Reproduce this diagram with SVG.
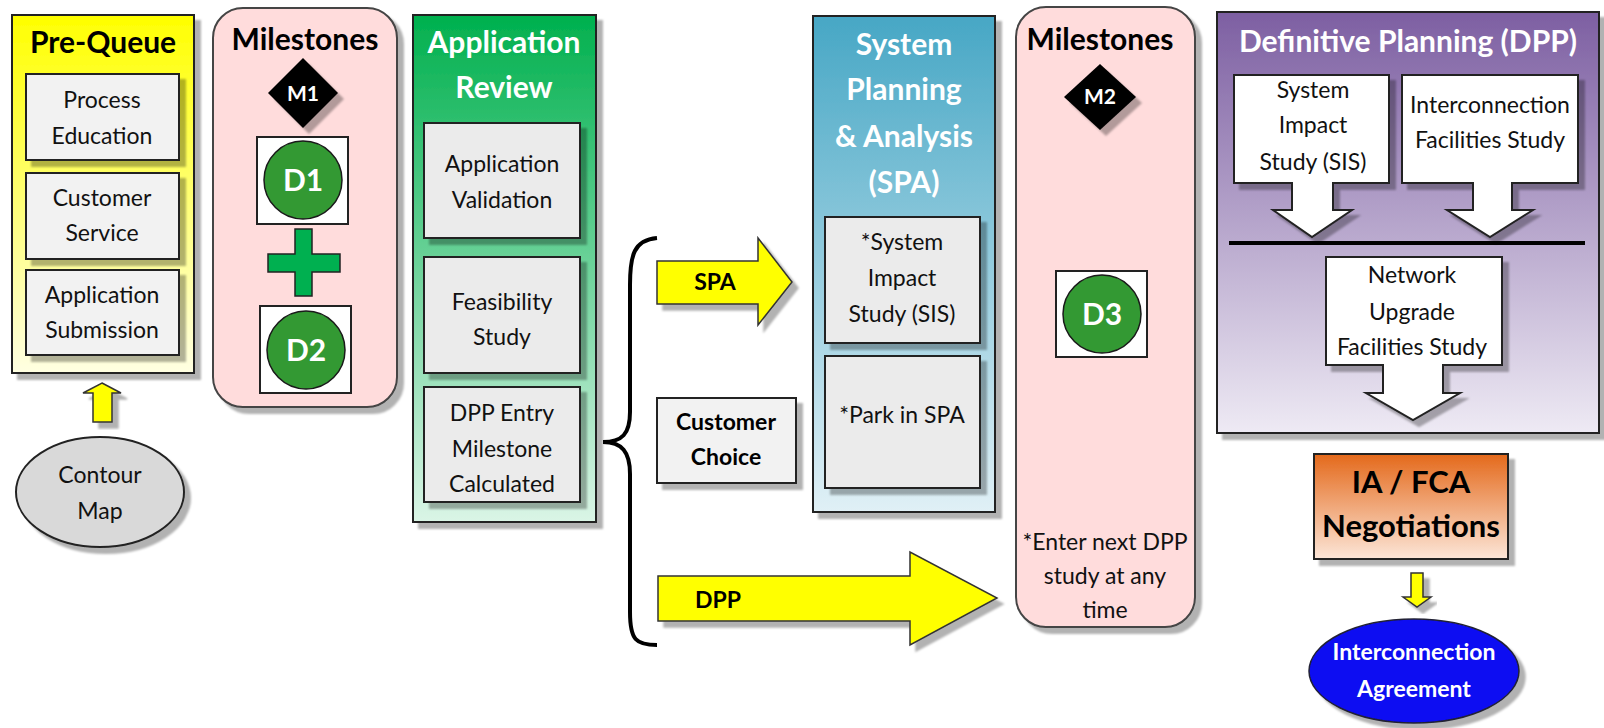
<svg xmlns="http://www.w3.org/2000/svg" width="1604" height="728" viewBox="0 0 1604 728">
<defs>
<linearGradient id="gY" x1="0" y1="0" x2="0" y2="1"><stop offset="0" stop-color="#ffff00"/><stop offset="1" stop-color="#ffffe2"/></linearGradient>
<linearGradient id="gG" x1="0" y1="0" x2="0" y2="1"><stop offset="0" stop-color="#00b04e"/><stop offset="1" stop-color="#daf5e6"/></linearGradient>
<linearGradient id="gB" x1="0" y1="0" x2="0" y2="1"><stop offset="0" stop-color="#47a7c5"/><stop offset="1" stop-color="#e0f0f6"/></linearGradient>
<linearGradient id="gP" x1="0" y1="0" x2="0" y2="1"><stop offset="0" stop-color="#7d5fa2"/><stop offset="1" stop-color="#eeeaf4"/></linearGradient>
<linearGradient id="gO" x1="0" y1="0" x2="0" y2="1"><stop offset="0" stop-color="#e4691b"/><stop offset="1" stop-color="#fce6d8"/></linearGradient>
<filter id="sh" x="-10%" y="-10%" width="130%" height="130%"><feDropShadow dx="6" dy="6" stdDeviation="0.8" flood-color="#000" flood-opacity="0.3"/></filter>
</defs>
<style>
.t{font-family:Lato,'Liberation Sans',sans-serif;text-anchor:middle}
.ti{font-size:30px;font-weight:bold}
.bd{font-size:23px;fill:#111}
.bb{font-size:23px;font-weight:bold;fill:#000}
.w{fill:#fff}
.box{fill:#ebebeb;stroke:#222;stroke-width:2}
.lbox{fill:#f2f2f2;stroke:#222;stroke-width:2}
.wbox{fill:#fff;stroke:#222;stroke-width:2}
.ms{fill:#ffdcdc;stroke:#444;stroke-width:2}
.dc{fill:#339933;stroke:#1a1a1a;stroke-width:1.5}
.dia{fill:#000}
.ya{fill:#ffff00;stroke:#333;stroke-width:1.5}
.dn{font-size:30px;font-weight:bold;fill:#fff}
.mn{font-size:21px;font-weight:bold;fill:#fff}
</style>

<g id="pre-queue">
<rect x="12" y="15" width="182" height="358" fill="url(#gY)" stroke="#222" stroke-width="2" filter="url(#sh)"/>
<text x="103" y="53" class="t ti">Pre-Queue</text>
<rect x="26" y="74" width="153" height="86" class="lbox" filter="url(#sh)"/>
<text x="102" y="108" class="t bd">Process</text>
<text x="102" y="144" class="t bd">Education</text>
<rect x="26" y="173" width="153" height="86" class="lbox" filter="url(#sh)"/>
<text x="102" y="206" class="t bd">Customer</text>
<text x="102" y="241" class="t bd">Service</text>
<rect x="26" y="270" width="153" height="85" class="lbox" filter="url(#sh)"/>
<text x="102" y="303" class="t bd">Application</text>
<text x="102" y="338" class="t bd">Submission</text>
</g>

<g id="milestones-1">
<rect x="213" y="8" width="184" height="399" rx="30" class="ms" filter="url(#sh)"/>
<text x="305" y="50" class="t ti">Milestones</text>
<polygon points="303,58 338,93 303,128 268,93" class="dia" filter="url(#sh)"/>
<text x="303" y="101" class="t mn">M1</text>
<rect x="257" y="137" width="91" height="87" class="wbox"/>
<circle cx="303" cy="180" r="39" class="dc"/>
<text x="303" y="191" class="t dn">D1</text>
<path d="M295,229 H312 V254 H340 V272 H312 V296 H295 V272 H268 V254 H295 Z" fill="#00b050" stroke="#222" stroke-width="1.5"/>
<rect x="260" y="306" width="91" height="87" class="wbox"/>
<circle cx="306" cy="350" r="39" class="dc"/>
<text x="306" y="361" class="t dn">D2</text>
</g>

<g id="contour-map">
<ellipse cx="100" cy="492" rx="84" ry="55" fill="#d9d9d9" stroke="#222" stroke-width="2" filter="url(#sh)"/>
<text x="100" y="483" class="t bd">Contour</text>
<text x="100" y="519" class="t bd">Map</text>
</g>

<g id="application-review">
<rect x="413" y="15" width="183" height="507" fill="url(#gG)" stroke="#222" stroke-width="2" filter="url(#sh)"/>
<text x="504" y="53" class="t ti w">Application</text>
<text x="504" y="98" class="t ti w">Review</text>
<rect x="424" y="123" width="156" height="115" class="box" filter="url(#sh)"/>
<text x="502" y="172" class="t bd">Application</text>
<text x="502" y="208" class="t bd">Validation</text>
<rect x="424" y="257" width="156" height="116" class="box" filter="url(#sh)"/>
<text x="502" y="310" class="t bd">Feasibility</text>
<text x="502" y="345" class="t bd">Study</text>
<rect x="424" y="387" width="156" height="115" class="box" filter="url(#sh)"/>
<text x="502" y="421" class="t bd">DPP Entry</text>
<text x="502" y="457" class="t bd">Milestone</text>
<text x="502" y="492" class="t bd">Calculated</text>
</g>

<g id="customer-choice">
<rect x="657" y="398" width="139" height="85" class="lbox" filter="url(#sh)"/>
<text x="726" y="430" class="t bb">Customer</text>
<text x="726" y="465" class="t bb">Choice</text>
</g>

<g id="spa">
<rect x="813" y="16" width="182" height="496" fill="url(#gB)" stroke="#222" stroke-width="2" filter="url(#sh)"/>
<text x="904" y="55" class="t ti w">System</text>
<text x="904" y="100" class="t ti w">Planning</text>
<text x="904" y="147" class="t ti w">&amp; Analysis</text>
<text x="904" y="193" class="t ti w">(SPA)</text>
<rect x="825" y="217" width="155" height="126" class="box" filter="url(#sh)"/>
<text x="902" y="250" class="t bd">*System</text>
<text x="902" y="286" class="t bd">Impact</text>
<text x="902" y="322" class="t bd">Study (SIS)</text>
<rect x="825" y="356" width="155" height="132" class="box" filter="url(#sh)"/>
<text x="902" y="423" class="t bd">*Park in SPA</text>
</g>

<g id="milestones-2">
<rect x="1016" y="7" width="179" height="620" rx="30" class="ms" filter="url(#sh)"/>
<text x="1100" y="50" class="t ti">Milestones</text>
<polygon points="1100,64 1136,97 1100,130 1064,97" class="dia" filter="url(#sh)"/>
<text x="1100" y="104" class="t mn">M2</text>
<rect x="1056" y="271" width="91" height="86" class="wbox"/>
<circle cx="1102" cy="314" r="39" class="dc"/>
<text x="1102" y="325" class="t dn">D3</text>
<text x="1105" y="550" class="t bd">*Enter next DPP</text>
<text x="1105" y="584" class="t bd">study at any</text>
<text x="1105" y="618" class="t bd">time</text>
</g>

<g id="dpp">
<rect x="1217" y="12" width="382" height="421" fill="url(#gP)" stroke="#222" stroke-width="2" filter="url(#sh)"/>
<text x="1408" y="52" class="t ti w">Definitive Planning (DPP)</text>
<path d="M1234,75 H1389 V183 H1333 V210 H1352 L1312,237 L1273,210 H1292 V183 H1234 Z" class="wbox" filter="url(#sh)"/>
<text x="1313" y="98" class="t bd">System</text>
<text x="1313" y="133" class="t bd">Impact</text>
<text x="1313" y="170" class="t bd">Study (SIS)</text>
<path d="M1402,75 H1578 V183 H1512 V210 H1533 L1490,237 L1447,210 H1473 V183 H1402 Z" class="wbox" filter="url(#sh)"/>
<text x="1490" y="113" class="t bd">Interconnection</text>
<text x="1490" y="148" class="t bd">Facilities Study</text>
<line x1="1229" y1="243" x2="1585" y2="243" stroke="#000" stroke-width="4"/>
<path d="M1326,257 H1502 V365 H1443 V393 H1460 L1413,420 L1366,393 H1383 V365 H1326 Z" class="wbox" filter="url(#sh)"/>
<text x="1412" y="283" class="t bd">Network</text>
<text x="1412" y="320" class="t bd">Upgrade</text>
<text x="1412" y="355" class="t bd">Facilities Study</text>
</g>

<g id="ia-fca">
<rect x="1314" y="454" width="194" height="105" fill="url(#gO)" stroke="#222" stroke-width="2" filter="url(#sh)"/>
<text x="1411" y="493" class="t" style="font-size:31px;font-weight:bold">IA / FCA</text>
<text x="1411" y="537" class="t" style="font-size:31px;font-weight:bold">Negotiations</text>
</g>

<g id="interconnection-agreement">
<ellipse cx="1414" cy="671" rx="105" ry="52" fill="#0a0af2" stroke="#223" stroke-width="1.5" filter="url(#sh)"/>
<text x="1414" y="660" class="t w" style="font-size:23px;font-weight:bold">Interconnection</text>
<text x="1414" y="697" class="t w" style="font-size:23px;font-weight:bold">Agreement</text>
</g>

<g id="connectors">
<path d="M102,383 L121,393 H112 V422 H93 V393 H83 Z" class="ya" filter="url(#sh)"/>
<path d="M657,238 C634,240 630,255 630,285 L630,412 C630,434 622,442 603,442 C622,442 630,452 630,474 L630,612 C630,640 636,645 657,645" fill="none" stroke="#000" stroke-width="4"/>
<path d="M657,261 H758 V238 L792,282 L758,325 V304 H657 Z" class="ya" filter="url(#sh)"/>
<text x="715" y="290" class="t bb" style="font-size:23px">SPA</text>
<path d="M658,576 H910 V552 L997,598 L910,645 V621 H658 Z" class="ya" filter="url(#sh)"/>
<text x="718" y="608" class="t bb" style="font-size:23px">DPP</text>
<path d="M1411,573 H1423 V597 H1431 L1417,607 L1403,597 H1411 Z" class="ya" filter="url(#sh)"/>
</g>
</svg>
